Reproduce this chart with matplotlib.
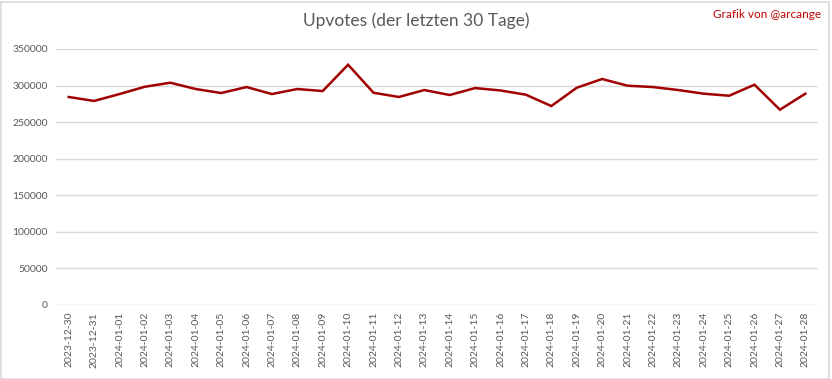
import matplotlib
matplotlib.use("Agg")
import matplotlib.pyplot as plt
from matplotlib.patches import Rectangle

dates = ["2023-12-30", "2023-12-31", "2024-01-01", "2024-01-02", "2024-01-03",
         "2024-01-04", "2024-01-05", "2024-01-06", "2024-01-07", "2024-01-08",
         "2024-01-09", "2024-01-10", "2024-01-11", "2024-01-12", "2024-01-13",
         "2024-01-14", "2024-01-15", "2024-01-16", "2024-01-17", "2024-01-18",
         "2024-01-19", "2024-01-20", "2024-01-21", "2024-01-22", "2024-01-23",
         "2024-01-24", "2024-01-25", "2024-01-26", "2024-01-27", "2024-01-28"]
upvotes = [284400, 279000, 288400, 298400, 303900,
           295300, 289800, 298000, 288400, 295300,
           292500, 328500, 290200, 284400, 293900,
           287100, 296600, 293300, 287500, 272000,
           297000, 309000, 299800, 298000, 293900,
           288900, 286100, 301200, 267000, 288900]
yticks = [0, 50000, 100000, 150000, 200000, 250000, 300000, 350000]

plt.rcParams['font.family'] = ['Lato', 'DejaVu Sans']

fig = plt.figure(figsize=(8.32, 3.79), dpi=100)
ax = fig.add_axes([56/832, 1 - 305/379, (818-56)/832, (305-49)/379])

x = list(range(len(dates)))
ax.plot(x, upvotes, color="#A00000", lw=1.8, solid_joinstyle="miter")
ax.set_xlim(-0.5, len(dates) - 0.5)
ax.set_ylim(0, 350000)
ax.set_yticks(yticks)
ax.set_yticklabels([str(v) for v in yticks])
ax.set_xticks(x)
ax.set_xticklabels(dates, rotation=90)
ax.grid(axis='y', color="#D9D9D9", lw=1)
ax.set_axisbelow(True)
for s in ax.spines.values():
    s.set_visible(False)
ax.tick_params(axis='both', length=0, colors="#595959", labelsize=7.5)
ax.tick_params(axis='y', pad=6)
ax.tick_params(axis='x', pad=5)

fig.text(416/832, 1 - 21/379, "Upvotes (der letzten 30 Tage)", ha='center', va='center',
         fontsize=12.5, color="#595959", fontweight='normal')
fig.text(821/832, 1 - 15/379, "Grafik von @arcange", ha='right', va='center',
         fontsize=8.5, color="#C00000")

fig.patches.append(Rectangle((0.5/832, 0.5/379), 1 - 3.5/832, 1 - 2/379,
                             transform=fig.transFigure, fill=False,
                             edgecolor="#D9D9D9", lw=1.2))

fig.savefig("out.png", dpi=100)
